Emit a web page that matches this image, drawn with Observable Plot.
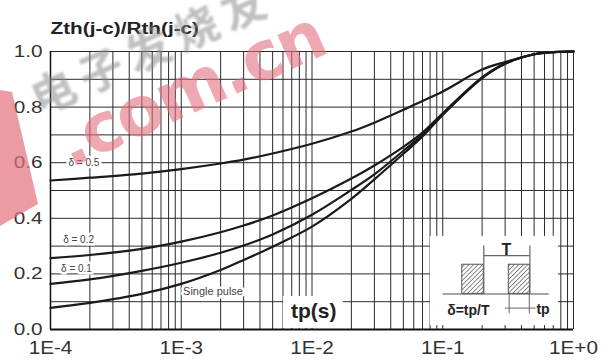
<!DOCTYPE html>
<html>
<head>
<meta charset="utf-8">
<script src="https://cdn.jsdelivr.net/npm/d3@7"></script>
<script src="https://cdn.jsdelivr.net/npm/@observablehq/plot@0.6"></script>
<style>
  body { margin: 0; background: #fff; }
  #chart { position: relative; width: 608px; height: 360px; }
</style>
</head>
<body>
<div id="chart"></div>
<script>
// Pulse duration tp (s) and normalised transient thermal impedance per duty cycle
const tp = [1e-4, 2e-4, 5e-4, 1e-3, 2e-3, 3e-3, 5e-3, 1e-2, 2e-2, 3e-2, 5e-2, 7e-2, 1e-1, 2e-1, 3e-1, 5e-1, 7e-1, 1];
const zDuty05 = [0.536, 0.546, 0.561, 0.577, 0.597, 0.611, 0.633, 0.668, 0.712, 0.744, 0.790, 0.822, 0.856, 0.935, 0.962, 0.990, 0.998, 1.0];
const zDuty02 = [0.257, 0.268, 0.290, 0.316, 0.350, 0.374, 0.410, 0.472, 0.543, 0.590, 0.657, 0.708, 0.778, 0.907, 0.957, 0.990, 0.998, 1.0];
const zDuty01 = [0.164, 0.180, 0.211, 0.240, 0.276, 0.302, 0.342, 0.413, 0.502, 0.558, 0.643, 0.700, 0.774, 0.905, 0.956, 0.990, 0.998, 1.0];
const zSingle = [0.078, 0.096, 0.128, 0.164, 0.214, 0.250, 0.298, 0.370, 0.470, 0.540, 0.632, 0.694, 0.772, 0.904, 0.956, 0.990, 0.998, 1.0];

const seriesNames = ["δ = 0.5", "δ = 0.2", "δ = 0.1", "Single pulse"];
const seriesValues = [zDuty05, zDuty02, zDuty01, zSingle];

const xTicks = [1e-4, 1e-3, 1e-2, 1e-1, 1];
const yTicks = [0, 0.2, 0.4, 0.6, 0.8, 1.0];
const title = "Zth(j-c)/Rth(j-c)";
const xLabel = "tp(s)";

const rows = seriesNames.flatMap((name, k) =>
  tp.map((t, i) => ({t, z: seriesValues[k][i], name})));

// log grid: every mantissa 1..9 in each decade, plus 0.1 steps vertically
const gridX = d3.range(-4, 0).flatMap(e => d3.range(1, 10).map(m => m * Math.pow(10, e))).concat([1]);
const gridY = d3.range(0, 11).map(i => i / 10);

const expFormat = d => {
  const e = Math.round(Math.log10(d));
  return "1E" + (e < 0 ? "-" : "+") + Math.abs(e);
};

// curve labels, anchored in data space
const curveLabels = [
  {t: 1.8e-4, z: 0.600, text: seriesNames[0], size: 10},
  {t: 1.64e-4, z: 0.322, text: seriesNames[1], size: 10},
  {t: 1.58e-4, z: 0.219, text: seriesNames[2], size: 10},
  {t: 1.75e-3, z: 0.137, text: seriesNames[3], size: 11}
];

const ink = "#1a1a1a";

const chart = Plot.plot({
  width: 608,
  height: 360,
  marginLeft: 50,
  marginRight: 35,
  marginTop: 51,
  marginBottom: 31,
  style: {fontFamily: "'Liberation Sans', Arial, sans-serif", fontSize: "17px", background: "white", color: "#333"},
  x: {type: "log", domain: [1e-4, 1], label: null},
  y: {domain: [0, 1], label: null},
  marks: [
    // grid
    Plot.ruleX(gridX, {stroke: "#2a2a2a", strokeWidth: 1}),
    Plot.ruleY(gridY, {stroke: "#2a2a2a", strokeWidth: 1}),
    // white panels behind the axis title and the pulse sketch
    Plot.rect([0], {x1: 0.00605, x2: 0.0174, y1: 0.004, y2: 0.119, fill: "white"}),
    Plot.rect([0], {x1: 0.0805, x2: 0.767, y1: 0.014, y2: 0.335, fill: "white"}),
    // frame edges
    Plot.ruleX([1e-4], {stroke: "#111", strokeWidth: 1.5}),
    Plot.ruleY([0], {stroke: "#111", strokeWidth: 2}),
    // curves
    Plot.line(rows, {x: "t", y: "z", z: "name", curve: "catmull-rom", stroke: ink, strokeWidth: 2.2}),
    // curve labels with white halo
    Plot.text(curveLabels, {
      x: "t", y: "z", text: "text", fontSize: d => d.size,
      fill: "#444", stroke: "white", strokeWidth: 5, paintOrder: "stroke"
    }),
    // axes
    Plot.axisX(xTicks, {tickSize: 0, tickPadding: 12, tickFormat: expFormat, fill: "#333", fontSize: 18}),
    Plot.axisY(yTicks, {tickSize: 0, tickPadding: 8, tickFormat: d3.format(".1f"), fill: "#333", fontSize: 17}),
    // titles
    Plot.text([title], {frameAnchor: "top-left", dy: -30, textAnchor: "start", fontSize: 17, fontWeight: "bold", fill: "#222"}),
    Plot.text([xLabel], {x: 0.0103, y: 0.065, fontSize: 21, fontWeight: "bold", fill: "#222"}),
    // pulse sketch: baseline, pulses, period and width dimensions
    Plot.link([0], {x1: 0.1, x2: 0.647, y1: 0.128, y2: 0.128, stroke: "#888", strokeWidth: 1.5}),
    Plot.rect([{a: 0.141, b: 0.206}, {a: 0.32, b: 0.464}], {
      x1: "a", x2: "b", y1: 0.128, y2: 0.233, fill: "url(#hatch)", stroke: "#555", strokeWidth: 1
    }),
    Plot.link([0.206, 0.464], {x1: d => d, x2: d => d, y1: 0.128, y2: 0.302, stroke: "#666", strokeWidth: 1.2}),
    Plot.link([0], {x1: 0.206, x2: 0.464, y1: 0.266, y2: 0.266, stroke: "#666", strokeWidth: 1.2}),
    Plot.link([0.322, 0.459], {x1: d => d, x2: d => d, y1: 0.128, y2: 0.058, stroke: "#666", strokeWidth: 1}),
    Plot.link([0], {x1: 0.30, x2: 0.512, y1: 0.077, y2: 0.077, stroke: "#666", strokeWidth: 1}),
    Plot.text(["T"], {x: 0.307, y: 0.288, fontSize: 16, fontWeight: "bold", fill: "#222"}),
    Plot.text(["tp"], {x: 0.585, y: 0.072, fontSize: 14, fontWeight: "bold", fill: "#222"}),
    Plot.text(["δ=tp/T"], {x: 0.157, y: 0.068, fontSize: 14, fontWeight: "bold", fill: "#222", letterSpacing: "-0.5px"})
  ]
});

const svg = d3.select(chart);

// the lettering of this sheet is set wide: stretch tick labels and title horizontally
function widen(filter, k) {
  svg.selectAll("text").filter(filter).each(function () {
    const el = d3.select(this);
    const xAttr = el.attr("x");
    const x = xAttr != null && !isNaN(+xAttr) ? +xAttr : 0;
    if (x !== 0) el.attr("x", null);
    el.attr("transform", (el.attr("transform") || "") + ` translate(${x},0) scale(${k},1)`);
  });
}
widen(function () { return /^\d\.\d$/.test(this.textContent); }, 1.22);
widen(function () { return /^1E[-+]\d$/.test(this.textContent); }, 1.15);
widen(function () { return this.textContent === title; }, 1.22);

// hatch fill for the pulses
const defs = svg.insert("defs", ":first-child");
const hatch = defs.append("pattern")
  .attr("id", "hatch")
  .attr("patternUnits", "userSpaceOnUse")
  .attr("width", 3.2).attr("height", 3.2)
  .attr("patternTransform", "rotate(45)");
hatch.append("rect").attr("width", 3.2).attr("height", 3.2).attr("fill", "white");
hatch.append("line").attr("x1", 0).attr("y1", 0).attr("x2", 0).attr("y2", 3.2)
  .attr("stroke", "#333").attr("stroke-width", 1.1);

// site watermark overlay
const blur = defs.append("filter").attr("id", "soft");
blur.append("feGaussianBlur").attr("stdDeviation", 1.3);
const wm = svg.append("g").attr("pointer-events", "none").attr("text-anchor", "start");
wm.append("path")
  .attr("d", "M0,90 L12,92 L38,204 L0,226 Z")
  .attr("fill", "#e46f7d").attr("opacity", 0.7);
wm.append("text")
  .text("电子发烧友")
  .attr("x", 40).attr("y", 116)
  .attr("transform", "rotate(-24,40,116)")
  .attr("font-family", "'Noto Sans CJK SC', sans-serif")
  .attr("font-size", 44).attr("font-weight", "bold")
  .attr("letter-spacing", "8px")
  .attr("fill", "#8c8c8c").attr("opacity", 0.55)
  .attr("filter", "url(#soft)");
wm.append("text")
  .text(".com.cn")
  .attr("x", 70).attr("y", 168)
  .attr("transform", "rotate(-24,70,168)")
  .attr("font-family", "'DejaVu Sans', sans-serif")
  .attr("font-size", 68).attr("font-weight", "bold")
  .attr("letter-spacing", "-2px")
  .attr("fill", "#e2707e").attr("opacity", 0.6);

document.getElementById("chart").appendChild(chart);
</script>
</body>
</html>
